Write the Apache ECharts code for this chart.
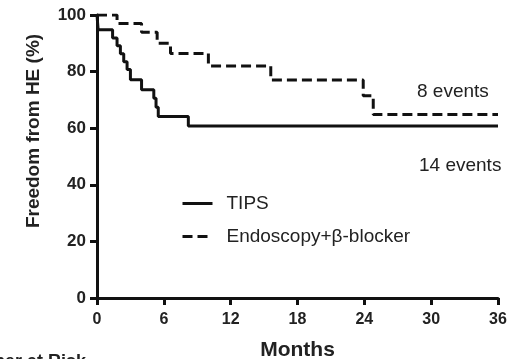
<!DOCTYPE html>
<html>
<head>
<meta charset="utf-8">
<script src="https://cdn.jsdelivr.net/npm/echarts@6.0.0/dist/echarts.min.js"></script>
<style>
html,body{margin:0;padding:0;background:#fff;}
#charts{width:514px;height:359px;}
</style>
</head>
<body>
<div id="charts"></div>
<script>
// 月份刻度
var xTicks = [0, 6, 12, 18, 24, 30, 36];
var yTicks = [0, 20, 40, 60, 80, 100];

// TIPS 组 (阶梯曲线)
var tipsMonths = [0, 0.1, 1.4, 1.8, 2.1, 2.4, 2.7, 3.0, 4.0, 5.1, 5.3, 5.5, 8.2, 36];
var tipsValues = [100, 94.8, 91.9, 89.1, 86.3, 83.5, 80.7, 77.1, 73.6, 70.6, 67.4, 64.1, 60.8, 60.8];

// Endoscopy+β-blocker 组
var endoMonths = [0, 1.8, 4.0, 5.4, 6.6, 10.0, 15.6, 23.9, 24.8, 36];
var endoValues = [100, 97.0, 93.9, 90.0, 86.4, 82.0, 77.0, 71.5, 64.8, 64.8];

var seriesNames = ['TIPS', 'Endoscopy+\u03b2-blocker'];
var eventLabels = ['8 events', '14 events'];

function pairs(xs, ys){
	var arr = [];
	for(var i=0;i<xs.length;i++){
		arr.push([xs[i], ys[i]]);
	}
	return arr;
}

var charts = echarts.init(document.getElementById('charts'));
var font = 'Liberation Sans, Arial, sans-serif';
var option = {
	backgroundColor: '#fff',
	animation: false,
	grid: {
		left: 97,
		right: 16,
		top: 15,
		bottom: 61,
		outerBoundsMode: 'none'//不自动收缩网格
	},
	legend: {
		orient: 'vertical',
		left: 181,
		top: 194,
		padding: 0,
		itemWidth: 30,
		itemHeight: 20,
		itemGap: 14,
		data: seriesNames,
		itemStyle: {opacity: 0},//隐藏图例圆点，只留线
		lineStyle: {width: 3},
		textStyle: {
			fontFamily: font,
			fontSize: 19,
			color: '#222',
			padding: [0, 0, 0, 9]
		}
	},
	xAxis: {
		type: 'value',
		min: 0,
		max: 36,
		interval: 6,
		name: 'Months',
		nameLocation: 'middle',
		nameGap: 42,
		nameTextStyle: {fontFamily: font, fontSize: 21, fontWeight: 'bold', color: '#222'},
		axisLine: {show: true, lineStyle: {color: '#111', width: 3}},
		axisTick: {show: true, length: 7, lineStyle: {color: '#111', width: 3}},
		axisLabel: {margin: 14, fontFamily: font, fontSize: 16, fontWeight: 'bold', color: '#222'},
		splitLine: {show: false}
	},
	yAxis: {
		type: 'value',
		min: 0,
		max: 100,
		interval: 20,
		axisLine: {show: true, lineStyle: {color: '#111', width: 3}},
		axisTick: {show: true, length: 7, lineStyle: {color: '#111', width: 3}},
		axisLabel: {margin: 11, fontFamily: font, fontSize: 17, fontWeight: 'bold', color: '#222'},
		splitLine: {show: false}
	},
	graphic: [{
		type: 'text',
		x: 34,
		y: 131,
		rotation: Math.PI / 2,
		style: {
			text: 'Freedom from HE (%)',
			font: 'bold 19px ' + font,
			fill: '#222',
			align: 'center',
			verticalAlign: 'middle'
		}
	},{
		type: 'text',
		x: 417,
		y: 92,
		style: {text: eventLabels[0], font: '19px ' + font, fill: '#222', verticalAlign: 'middle'}
	},{
		type: 'text',
		x: 419,
		y: 166,
		style: {text: eventLabels[1], font: '19px ' + font, fill: '#222', verticalAlign: 'middle'}
	},{
		type: 'text',
		x: 86,
		y: 353,
		style: {text: 'Number at Risk', font: 'bold 18px ' + font, fill: '#222', align: 'right', verticalAlign: 'top'}
	}],
	series: [{
		name: seriesNames[0],
		type: 'line',
		step: 'end',
		symbol: 'none',
		data: pairs(tipsMonths, tipsValues),
		lineStyle: {color: '#111', width: 3},
		itemStyle: {color: '#111'}
	},{
		name: seriesNames[1],
		type: 'line',
		step: 'end',
		symbol: 'none',
		data: pairs(endoMonths, endoValues),
		lineStyle: {color: '#111', width: 3, type: [10, 5]},
		itemStyle: {color: '#111'}
	}]
};
charts.setOption(option);
</script>
</body>
</html>
